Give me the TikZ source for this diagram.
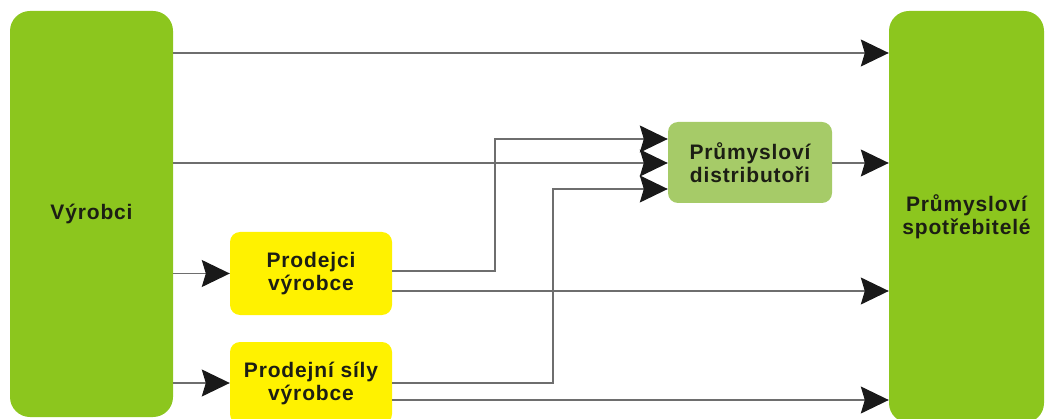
\documentclass[tikz,border=0pt]{standalone}
\usepackage{fontspec}
\setmainfont{Liberation Sans}[LetterSpace=4]
\usetikzlibrary{arrows.meta}
\definecolor{boxgreen}{RGB}{140,198,30}
\definecolor{distgreen}{RGB}{166,203,104}
\definecolor{boxyellow}{RGB}{255,242,0}
\definecolor{linegray}{RGB}{110,110,110}
\definecolor{txtdark}{RGB}{28,30,20}
\begin{document}
\begin{tikzpicture}[x=1pt,y=-1pt,
  box/.style={rectangle, inner sep=0pt, align=center, text=txtdark,
    font=\fontsize{21}{23}\selectfont\bfseries},
  bigbox/.style={box, fill=boxgreen, rounded corners=20pt},
  smallbox/.style={box, rounded corners=10pt},
  conn/.style={draw=linegray, line width=1.2pt,
    -{Stealth[length=28pt, width=27pt, inset=4pt, color=black!90]}}]
\useasboundingbox (0,0) rectangle (1048,419);

% producers and industrial consumers
\node[bigbox, minimum width=163pt, minimum height=406pt] (prod) at (91.5,214) {Výrobci};
\node[bigbox, minimum width=155pt, minimum height=412pt] (cons) at (966.5,217) {Průmysloví\\spotřebitelé};

% intermediaries
\node[smallbox, fill=boxyellow, minimum width=162pt, minimum height=83pt] (dealers) at (311,273.5) {Prodejci\\výrobce};
\node[smallbox, fill=boxyellow, minimum width=162pt, minimum height=82pt] (force) at (311,383) {Prodejní síly\\výrobce};
\node[smallbox, fill=distgreen, minimum width=164pt, minimum height=81pt] (dist) at (750,162.5) {Průmysloví\\distributoři};

% direct channel
\draw[conn] (prod.east |- 0,53) -- (cons.west |- 0,53);
% through distributors
\draw[conn] (prod.east |- 0,163) -- (dist.west |- 0,163);
\draw[conn] (dist.east |- 0,163) -- (cons.west |- 0,163);
% to own sales organisations
\draw[conn] (prod.east |- dealers.west) -- (dealers.west);
\draw[conn] (prod.east |- force.west) -- (force.west);
% dealers
\draw[conn] (dealers.east |- 0,271) -- (495,271) -- (495,139) -- (dist.west |- 0,139);
\draw[conn] (dealers.east |- 0,291) -- (cons.west |- 0,291);
% sales force
\draw[conn] (force.east |- 0,383) -- (553,383) -- (553,189) -- (dist.west |- 0,189);
\draw[conn] (force.east |- 0,400) -- (cons.west |- 0,400);
\end{tikzpicture}
\end{document}
